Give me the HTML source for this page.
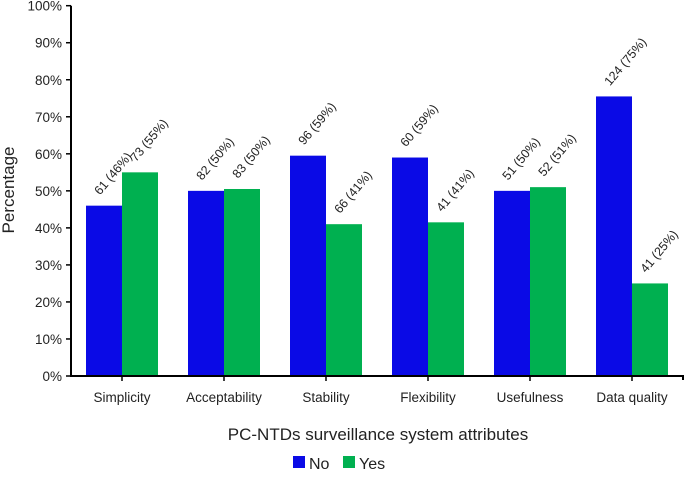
<!DOCTYPE html>
<html><head><meta charset="utf-8"><style>
body{margin:0;background:#fff;font-family:"Liberation Sans",sans-serif}
svg text{font-family:"Liberation Sans",sans-serif;fill:#222}
</style></head><body>
<svg width="685" height="472">
<g id="g"></g>
</svg>
<script>
const categories=["Simplicity","Acceptability","Stability","Flexibility","Usefulness","Data quality"];
const noValues=[46,50,59.5,59,50,75.5];
const yesValues=[55,50.5,41,41.5,51,25];
const noLabels=["61 (46%)","82 (50%)","96 (59%)","60 (59%)","51 (50%)","124 (75%)"];
const yesLabels=["73 (55%)","83 (50%)","66 (41%)","41 (41%)","52 (51%)","41 (25%)"];
const yTicks=[0,10,20,30,40,50,60,70,80,90,100];
const NS="http://www.w3.org/2000/svg",g=document.getElementById('g');
const x0=71,x1=683,yb=376,yt=5.7,bw=36;
const step=(x1-x0)/categories.length;
const y=v=>yb-(v/100)*(yb-yt);
const cx=i=>x0+step*(i+0.5);
function mk(t,a,p){const e=document.createElementNS(NS,t);for(const k in a)e.setAttribute(k,a[k]);(p||g).appendChild(e);return e;}
yTicks.forEach(t=>{
 const l=mk('line',{x1:x0-5,x2:x0,y1:y(t),y2:y(t),stroke:'#000','stroke-width':1.5});
 
 
 const tx=mk('text',{x:x0-9,y:y(t)+5,'text-anchor':'end','font-size':13.5});
 tx.textContent=t+'%';
 
 
});
categories.forEach((c,i)=>{
 const c0=cx(i);
 const b1=mk('rect',{x:c0-bw,y:y(noValues[i]),width:bw,height:yb-y(noValues[i]),fill:'#0a0ae6'});
 
 
 const b2=mk('rect',{x:c0,y:y(yesValues[i]),width:bw,height:yb-y(yesValues[i]),fill:'#00b050'});
 
 
 [[noLabels[i],c0-bw/2-4,y(noValues[i])-10],[yesLabels[i],c0+bw/2-4,y(yesValues[i])-10]].forEach(([s,px,py])=>{
  const t=mk('text',{x:px,y:py,'font-size':12.5,transform:`rotate(-50 ${px} ${py})`});
  t.textContent=s;
  
  
 });
 const tk=mk('line',{x1:c0,x2:c0,y1:yb,y2:yb+5,stroke:'#000','stroke-width':1.5});
 
 
 const tl=mk('text',{x:c0,y:402,'text-anchor':'middle','font-size':13.5});
 tl.textContent=c;
 
 
});
const ax=mk('path',{d:`M${x0} ${yt}V${yb}H${x1}V${yb+4}`,stroke:'#000','stroke-width':2,fill:'none'});


</script>
<svg style="position:absolute;left:0;top:0" width="685" height="472">
<text x="14" y="190" font-size="17" text-anchor="middle" transform="rotate(-90 14 190)">Percentage</text>
<text x="378" y="440" font-size="17" text-anchor="middle">PC-NTDs surveillance system attributes</text>
<g>
<rect x="293" y="456" width="12" height="12" fill="#0a0ae6"/>
<text x="309" y="469" font-size="16">No</text>
<rect x="343" y="456" width="12" height="12" fill="#00b050"/>
<text x="359" y="469" font-size="16">Yes</text>
</g>
</svg>
</body></html>
